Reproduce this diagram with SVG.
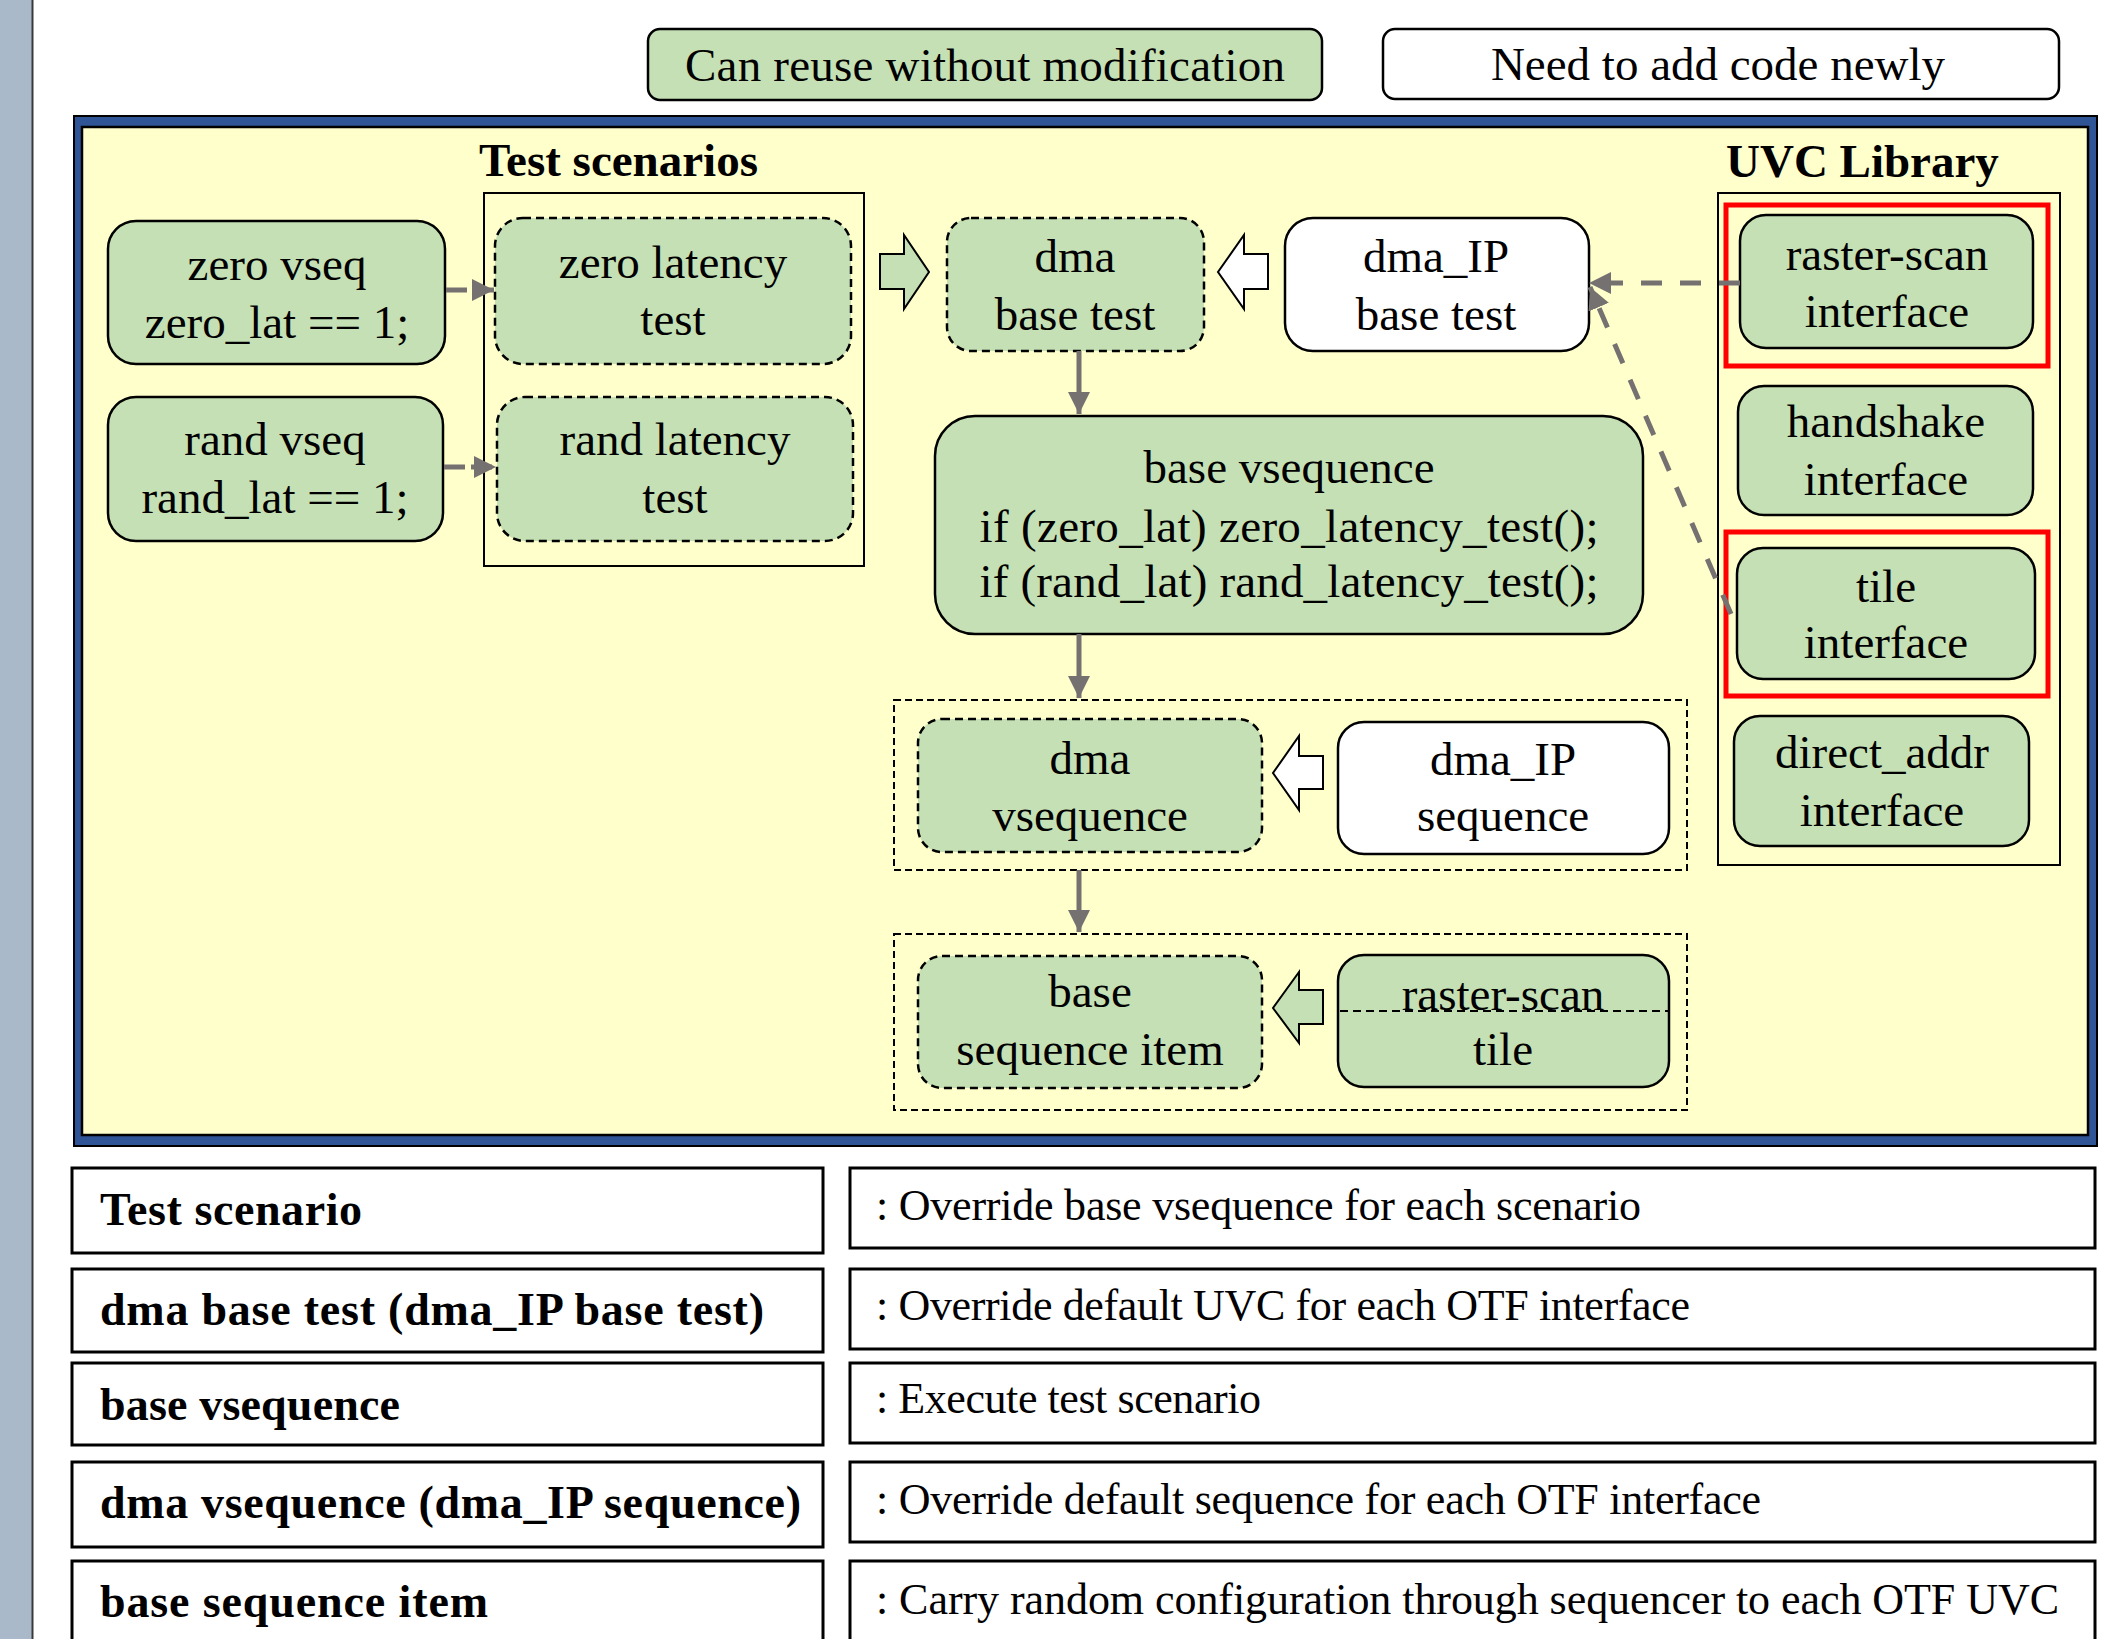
<svg xmlns="http://www.w3.org/2000/svg" width="2119" height="1639" viewBox="0 0 2119 1639">
<defs>
<style>
text{font-family:"Liberation Serif","Times New Roman",serif;fill:#000}
.t{font-size:47px;text-anchor:middle}
.b{font-weight:bold}
.g{fill:#c5e0b4;stroke:#000;stroke-width:2.5}
.w{fill:#fff;stroke:#000;stroke-width:2.5}
.gd{fill:#c5e0b4;stroke:#000;stroke-width:2.5;stroke-dasharray:8 5}
.cont{fill:none;stroke:#000;stroke-width:2}
.contd{fill:none;stroke:#000;stroke-width:2;stroke-dasharray:7 4}
.red{fill:none;stroke:#ff0000;stroke-width:5}
.tb{fill:#fff;stroke:#000;stroke-width:3}
.conn{stroke:#767171;fill:none;stroke-width:5}
.dash{stroke-dasharray:21 18}
.blk{stroke:#000;stroke-width:2}
.ts{font-size:46px}
.td{font-size:44px}
</style>
<marker id="ah" viewBox="0 0 22 22" refX="22" refY="11" markerWidth="22" markerHeight="22" markerUnits="userSpaceOnUse" orient="auto">
<path d="M0,0 L22,11 L0,22 z" fill="#767171"/>
</marker>
</defs>
<rect x="0" y="0" width="2119" height="1639" fill="#fff"/>
<rect x="0" y="0" width="32" height="1639" fill="#a9b9c9"/>
<line x1="32.5" y1="0" x2="32.5" y2="1639" stroke="#3a3a3a" stroke-width="2"/>

<g id="legend-reuse">
<rect x="648" y="29" width="674" height="71" rx="12" class="g"/>
<text x="985" y="81" class="t" textLength="600" lengthAdjust="spacing">Can reuse without modification</text>
</g>
<g id="legend-new">
<rect x="1383" y="29" width="676" height="70" rx="12" class="w"/>
<text x="1718" y="80" class="t">Need to add code newly</text>
</g>

<g id="frame">
<rect x="74" y="116" width="2023" height="1030" fill="#2f5597" stroke="#000" stroke-width="2"/>
<rect x="82" y="127" width="2006" height="1008" fill="#ffffcc" stroke="#000" stroke-width="2.5"/>
</g>

<g id="test-scenarios">
<text x="479" y="176" class="b" font-size="47">Test scenarios</text>
<rect x="484" y="193" width="380" height="373" class="cont"/>
</g>
<g id="uvc-library">
<text x="1726" y="177" class="b" font-size="47">UVC Library</text>
<rect x="1718" y="193" width="342" height="672" class="cont"/>
</g>

<g id="zero-vseq">
<rect x="108" y="221" width="337" height="143" rx="28" class="g"/>
<text x="277" y="280" class="t">zero vseq</text>
<text x="277" y="338" class="t">zero_lat == 1;</text>
</g>
<g id="rand-vseq">
<rect x="108" y="397" width="335" height="144" rx="28" class="g"/>
<text x="275" y="455" class="t">rand vseq</text>
<text x="275" y="513" class="t">rand_lat == 1;</text>
</g>
<g id="zero-latency-test">
<rect x="495" y="218" width="356" height="146" rx="28" class="gd"/>
<text x="673" y="278" class="t">zero latency</text>
<text x="673" y="335" class="t">test</text>
</g>
<g id="rand-latency-test">
<rect x="497" y="397" width="356" height="144" rx="28" class="gd"/>
<text x="675" y="455" class="t">rand latency</text>
<text x="675" y="513" class="t">test</text>
</g>

<g id="dma-base-test">
<rect x="947" y="218" width="257" height="133" rx="24" class="gd"/>
<text x="1075" y="272" class="t">dma</text>
<text x="1075" y="330" class="t">base test</text>
</g>
<g id="dma-ip-base-test">
<rect x="1285" y="218" width="304" height="133" rx="28" class="w"/>
<text x="1436" y="272" class="t">dma_IP</text>
<text x="1436" y="330" class="t">base test</text>
</g>

<g id="base-vsequence">
<rect x="935" y="416" width="708" height="218" rx="40" class="g"/>
<text x="1289" y="483" class="t">base vsequence</text>
<text x="1289" y="542" class="t" textLength="619" lengthAdjust="spacing">if (zero_lat) zero_latency_test();</text>
<text x="1289" y="597" class="t" textLength="619" lengthAdjust="spacing">if (rand_lat) rand_latency_test();</text>
</g>

<g id="raster-scan-interface">
<rect x="1726" y="205" width="322" height="161" class="red"/>
<rect x="1740" y="215" width="293" height="133" rx="26" class="g"/>
<text x="1887" y="270" class="t">raster-scan</text>
<text x="1887" y="327" class="t">interface</text>
</g>
<g id="handshake-interface">
<rect x="1738" y="386" width="295" height="129" rx="26" class="g"/>
<text x="1886" y="437" class="t">handshake</text>
<text x="1886" y="495" class="t">interface</text>
</g>
<g id="tile-interface">
<rect x="1726" y="532" width="322" height="164" class="red"/>
<rect x="1737" y="548" width="298" height="131" rx="26" class="g"/>
<text x="1886" y="602" class="t">tile</text>
<text x="1886" y="658" class="t">interface</text>
</g>
<g id="direct-addr-interface">
<rect x="1734" y="716" width="295" height="130" rx="26" class="g"/>
<text x="1882" y="768" class="t">direct_addr</text>
<text x="1882" y="826" class="t">interface</text>
</g>

<g id="vseq-group">
<rect x="894" y="700" width="793" height="170" class="contd"/>
</g>
<g id="dma-vsequence">
<rect x="918" y="719" width="344" height="133" rx="24" class="gd"/>
<text x="1090" y="774" class="t">dma</text>
<text x="1090" y="831" class="t">vsequence</text>
</g>
<g id="dma-ip-sequence">
<rect x="1338" y="722" width="331" height="132" rx="26" class="w"/>
<text x="1503" y="775" class="t">dma_IP</text>
<text x="1503" y="831" class="t">sequence</text>
</g>

<g id="item-group">
<rect x="894" y="934" width="793" height="176" class="contd"/>
</g>
<g id="base-sequence-item">
<rect x="918" y="956" width="344" height="132" rx="24" class="gd"/>
<text x="1090" y="1007" class="t">base</text>
<text x="1090" y="1065" class="t">sequence item</text>
</g>
<g id="raster-scan-tile">
<rect x="1338" y="955" width="331" height="132" rx="26" class="g"/>
<line x1="1340" y1="1011" x2="1668" y2="1011" stroke="#000" stroke-width="2" stroke-dasharray="8 5"/>
<text x="1503" y="1010" class="t">raster-scan</text>
<text x="1503" y="1065" class="t">tile</text>
</g>

<g id="connectors">
<line x1="446" y1="290" x2="494" y2="290" class="conn" stroke-dasharray="21 6" marker-end="url(#ah)"/>
<line x1="444" y1="467" x2="496" y2="467" class="conn" stroke-dasharray="21 6" marker-end="url(#ah)"/>
<polygon points="880,254 904,254 904,235 929,272 904,309 904,289 880,289" fill="#c5e0b4" class="blk"/>
<polygon points="1268,254 1244,254 1244,235 1218,272 1244,309 1244,289 1268,289" fill="#fff" class="blk"/>
<polygon points="1323,756 1299,756 1299,736 1273,773 1299,810 1299,789 1323,789" fill="#fff" class="blk"/>
<polygon points="1323,990 1299,990 1299,972 1273,1008 1299,1043 1299,1024 1323,1024" fill="#c5e0b4" class="blk"/>
<line x1="1079" y1="351" x2="1079" y2="414" class="conn" marker-end="url(#ah)"/>
<line x1="1079" y1="634" x2="1079" y2="698" class="conn" marker-end="url(#ah)"/>
<line x1="1079" y1="870" x2="1079" y2="932" class="conn" marker-end="url(#ah)"/>
<line x1="1740" y1="283" x2="1589" y2="283" class="conn dash" marker-end="url(#ah)"/>
<line x1="1731" y1="614" x2="1590" y2="287" class="conn dash" marker-end="url(#ah)"/>
</g>

<g id="table">
<rect x="72" y="1168" width="751" height="85" class="tb"/>
<rect x="850" y="1168" width="1245" height="80" class="tb"/>
<text x="100" y="1225" class="b ts" textLength="262" lengthAdjust="spacing">Test scenario</text>
<text x="876" y="1220" class="td" textLength="765" lengthAdjust="spacing">: Override  base vsequence  for each scenario</text>

<rect x="72" y="1269" width="751" height="83" class="tb"/>
<rect x="850" y="1269" width="1245" height="80" class="tb"/>
<text x="100" y="1325" class="b ts" textLength="664" lengthAdjust="spacing">dma base test (dma_IP base test)</text>
<text x="876" y="1320" class="td" textLength="814" lengthAdjust="spacing">: Override default UVC for each OTF interface</text>

<rect x="72" y="1363" width="751" height="82" class="tb"/>
<rect x="850" y="1363" width="1245" height="80" class="tb"/>
<text x="100" y="1420" class="b ts" textLength="300" lengthAdjust="spacing">base vsequence</text>
<text x="876" y="1413" class="td" textLength="385" lengthAdjust="spacing">: Execute test scenario</text>

<rect x="72" y="1462" width="751" height="85" class="tb"/>
<rect x="850" y="1462" width="1245" height="80" class="tb"/>
<text x="100" y="1518" class="b ts" textLength="701" lengthAdjust="spacing">dma vsequence (dma_IP sequence)</text>
<text x="876" y="1514" class="td" textLength="885" lengthAdjust="spacing">: Override default sequence for each OTF interface</text>

<rect x="72" y="1561" width="751" height="100" class="tb"/>
<rect x="850" y="1561" width="1245" height="100" class="tb"/>
<text x="100" y="1617" class="b ts" textLength="388" lengthAdjust="spacing">base sequence item</text>
<text x="876" y="1614" class="td" textLength="1183" lengthAdjust="spacing">: Carry random configuration through sequencer to each OTF UVC</text>
</g>
</svg>
